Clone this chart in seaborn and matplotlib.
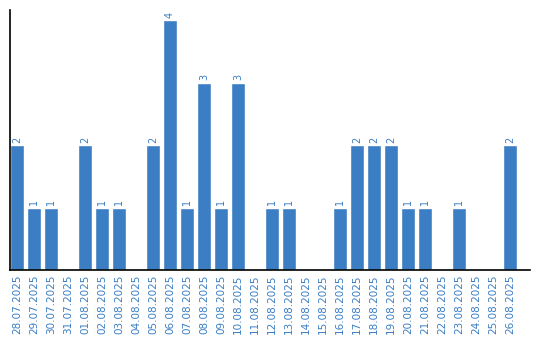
import matplotlib
matplotlib.use("Agg")
import matplotlib.pyplot as plt
import seaborn as sns
import pandas as pd

dates = ["28.07.2025", "29.07.2025", "30.07.2025", "31.07.2025", "01.08.2025",
         "02.08.2025", "03.08.2025", "04.08.2025", "05.08.2025", "06.08.2025",
         "07.08.2025", "08.08.2025", "09.08.2025", "10.08.2025", "11.08.2025",
         "12.08.2025", "13.08.2025", "14.08.2025", "15.08.2025", "16.08.2025",
         "17.08.2025", "18.08.2025", "19.08.2025", "20.08.2025", "21.08.2025",
         "22.08.2025", "23.08.2025", "24.08.2025", "25.08.2025", "26.08.2025"]
counts = [2, 1, 1, 0, 2, 1, 1, 0, 2, 4, 1, 3, 1, 3, 0,
          1, 1, 0, 0, 1, 2, 2, 2, 1, 1, 0, 1, 0, 0, 2]

df = pd.DataFrame({"date": dates, "count": counts})
sns.set_style("white")
color = "#3b7ec3"

fig = plt.figure(figsize=(5.4, 3.4), dpi=100)
ax = fig.add_axes([10/540, 70/340, 520/540, 260/340])
sns.barplot(data=df, x="date", y="count", color=color, width=0.82,
            saturation=1, ax=ax)
ax.set_xlim(-0.41, 30.18)
ax.set_ylim(0, 4.16)
for i, v in enumerate(counts):
    if v > 0:
        ax.text(i, v + 0.04, str(v), rotation=90, ha="center", va="bottom",
                color=color, fontsize=7)
ax.set_xlabel("")
ax.set_ylabel("")
ax.set_yticks([])
ax.tick_params(axis="x", length=0, pad=3, labelsize=7.5, labelcolor=color)
plt.setp(ax.get_xticklabels(), rotation=90)
for s in ["top", "right"]:
    ax.spines[s].set_visible(False)
for s in ["left", "bottom"]:
    ax.spines[s].set_color("black")
    ax.spines[s].set_linewidth(1.2)
fig.savefig("out.png", dpi=100)
